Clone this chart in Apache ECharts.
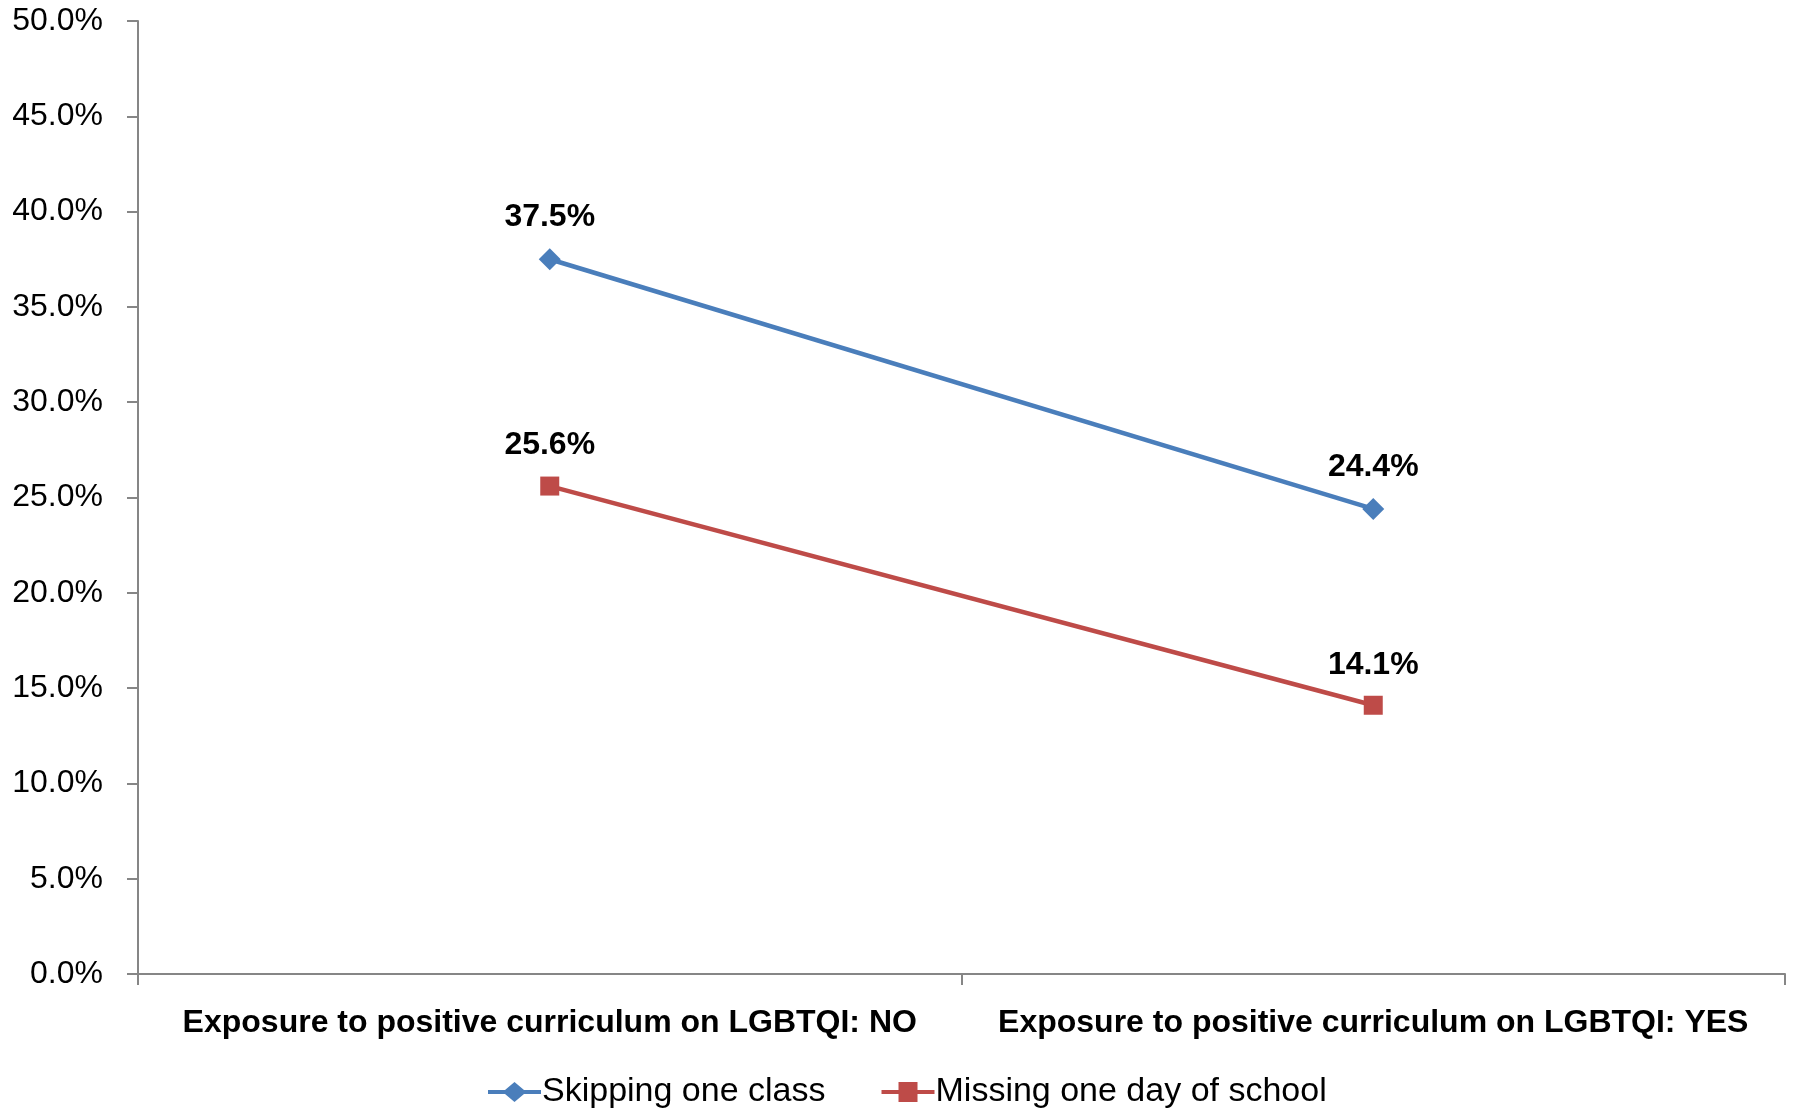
<!DOCTYPE html>
<html><head><meta charset="utf-8">
<script src="https://cdn.jsdelivr.net/npm/echarts@6/dist/echarts.min.js"></script>
<style>html,body{margin:0;padding:0;background:#fff}#c{width:1793px;height:1108px}</style>
</head><body><div id="c"></div>
<script>
const categories = ['Exposure to positive curriculum on LGBTQI: NO', 'Exposure to positive curriculum on LGBTQI: YES'];
const skippingClass = [37.5, 24.4];
const missingDay = [25.6, 14.1];
const seriesNames = ['Skipping one class', 'Missing one day of school'];

const FONT = '"Liberation Sans Narrow", "Liberation Sans", sans-serif';
const BLUE = '#4A7EBB', RED = '#BE4B48';
const chart = echarts.init(document.getElementById('c'));
const labelCfg = {
  show: true, position: 'top', distance: 15,
  formatter: p => p.value.toFixed(1) + '%',
  fontFamily: FONT, fontWeight: 'bold', fontSize: 32, color: '#000'
};
chart.setOption({
  animation: false,
  grid: { left: 138, right: 8, top: 21, bottom: 134, containLabel: false },
  legend: {
    bottom: -6, left: 483,
    itemWidth: 53, itemHeight: 20, itemGap: 56,
    textStyle: { fontFamily: FONT, fontSize: 34, color: '#000', padding: [0, 0, 0, -4] },
    data: [
      { name: seriesNames[0], icon: 'path://M0,8 L17,8 L26.5,0 L36,8 L53,8 L53,12 L36,12 L26.5,20 L17,12 L0,12 Z', itemStyle: { color: BLUE } },
      { name: seriesNames[1], icon: 'path://M0,8 L17,8 L17,0 L36,0 L36,8 L53,8 L53,12 L36,12 L36,20 L17,20 L17,12 L0,12 Z', itemStyle: { color: RED } }
    ]
  },
  xAxis: {
    type: 'category', data: categories, boundaryGap: true,
    axisLine: { lineStyle: { color: '#868686', width: 2 } },
    axisTick: { show: true, length: 11, lineStyle: { color: '#868686', width: 2 } },
    axisLabel: { interval: 0, fontFamily: FONT, fontWeight: 'bold', fontSize: 32, color: '#000', margin: 33 }
  },
  yAxis: {
    type: 'value', min: 0, max: 50, interval: 5,
    splitLine: { show: false },
    axisLine: { show: true, lineStyle: { color: '#868686', width: 2 } },
    axisTick: { show: true, length: 11, lineStyle: { color: '#868686', width: 2 } },
    axisLabel: { formatter: v => v.toFixed(1) + '%', fontFamily: FONT, fontSize: 32, color: '#000', margin: 35 }
  },
  series: [
    {
      name: seriesNames[0], type: 'line', data: skippingClass,
      symbol: 'diamond', symbolSize: 22,
      lineStyle: { color: BLUE, width: 4.5 },
      itemStyle: { color: BLUE },
      label: labelCfg
    },
    {
      name: seriesNames[1], type: 'line', data: missingDay,
      symbol: 'rect', symbolSize: 19,
      lineStyle: { color: RED, width: 4.5 },
      itemStyle: { color: RED },
      label: labelCfg
    }
  ]
});
</script></body></html>
